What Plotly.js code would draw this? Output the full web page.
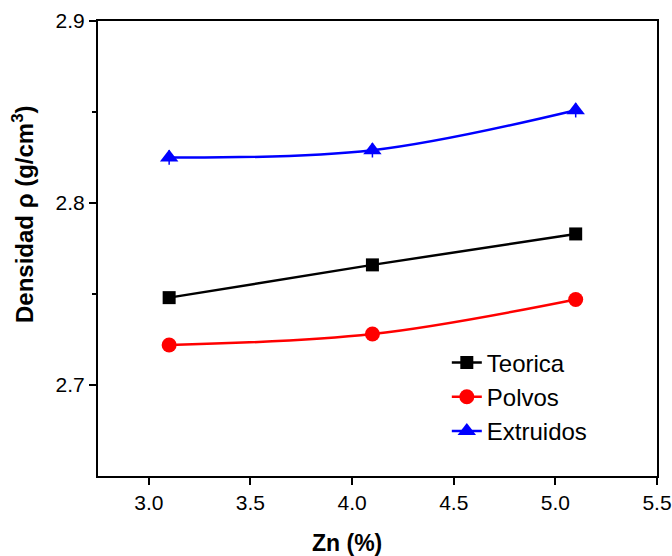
<!DOCTYPE html>
<html>
<head>
<meta charset="utf-8">
<script src="https://cdn.plot.ly/plotly-3.0.1.min.js"></script>
<style>html,body{margin:0;padding:0;background:#fff;}#chart{width:672px;height:556px;}</style>
</head>
<body>
<div id="chart"></div>
<script>
// Data
const zn = [3.1, 4.1, 5.1];
const teorica = [2.748, 2.766, 2.783];
const polvos = [2.722, 2.728, 2.747];
const polvosErr = [0.001, 0.0015, 0.003];
const extruidos = [2.825, 2.829, 2.851];
const extruidosErr = [0.004, 0.004, 0.004];
const seriesNames = ["Teorica", "Polvos", "Extruidos"];
const xTicks = [3.0, 3.5, 4.0, 4.5, 5.0, 5.5];
const xTickText = ["3.0", "3.5", "4.0", "4.5", "5.0", "5.5"];
const yTicks = [2.7, 2.8, 2.9];
const yTickText = ["2.7", "2.8", "2.9"];
const xTitle = "<b>Zn (%)</b>";
const yTitle = "<b>Densidad ρ (g/cm<sup>3</sup>)</b>";

const traces = [
  {x: zn, y: teorica, name: seriesNames[0], mode: "lines+markers", type: "scatter",
   line: {color: "#000000", width: 2.5},
   marker: {symbol: "square", size: 13, color: "#000000"}},
  {x: zn, y: polvos, name: seriesNames[1], mode: "lines+markers", type: "scatter",
   line: {color: "#ff0000", width: 2.5, shape: "spline", smoothing: 1},
   marker: {symbol: "circle", size: 15, color: "#ff0000"},
   error_y: {type: "data", array: polvosErr, visible: true, color: "#ff0000", thickness: 1.5, width: 0}},
  {x: zn, y: extruidos, name: seriesNames[2], mode: "lines+markers", type: "scatter",
   line: {color: "#0000ff", width: 2.5, shape: "spline", smoothing: 1},
   marker: {symbol: "triangle-up", size: 16, color: "#0000ff"},
   error_y: {type: "data", array: extruidosErr, visible: true, color: "#0000ff", thickness: 1.5, width: 0}}
];

const font = "Arial, 'Liberation Sans', sans-serif";
const layout = {
  width: 672, height: 556,
  margin: {l: 98, r: 15, t: 21, b: 80, pad: 0},
  paper_bgcolor: "#ffffff", plot_bgcolor: "#ffffff",
  font: {family: font, color: "#000000"},
  showlegend: true,
  legend: {x: 0.624, xanchor: "left", y: 0.298, yanchor: "top",
           font: {family: font, size: 24, color: "#000000"},
           bgcolor: "rgba(0,0,0,0)", borderwidth: 0, tracegroupgap: 0},
  xaxis: {range: [2.75, 5.5], tickvals: xTicks, ticktext: xTickText,
          showgrid: false, zeroline: false, showline: true, linecolor: "#000000", linewidth: 2,
          mirror: true, ticks: "outside", ticklen: 7, tickwidth: 2, tickcolor: "#000000",
          tickfont: {family: font, size: 21, color: "#000000"}},
  yaxis: {range: [2.65, 2.9], tickvals: yTicks, ticktext: yTickText,
          showgrid: false, zeroline: false, showline: true, linecolor: "#000000", linewidth: 2,
          mirror: true, ticks: "outside", ticklen: 7, tickwidth: 2, tickcolor: "#000000",
          minor: {tickvals: [2.75, 2.85], ticks: "outside", ticklen: 4, tickwidth: 2, tickcolor: "#000000", showgrid: false},
          tickfont: {family: font, size: 21, color: "#000000"}},
  annotations: [
    {text: xTitle, xref: "paper", yref: "paper", x: (347 - 98) / 559, y: -(543 - 476) / 455,
     xanchor: "center", yanchor: "middle", showarrow: false,
     font: {family: font, size: 23, color: "#000000"}},
    {text: yTitle, xref: "paper", yref: "paper", x: (23 - 98) / 559, y: (476 - 214) / 455,
     xanchor: "center", yanchor: "middle", showarrow: false, textangle: -90,
     font: {family: font, size: 24, color: "#000000"}}
  ]
};

Plotly.newPlot("chart", traces, layout, {displayModeBar: false, staticPlot: true});
</script>
</body>
</html>
